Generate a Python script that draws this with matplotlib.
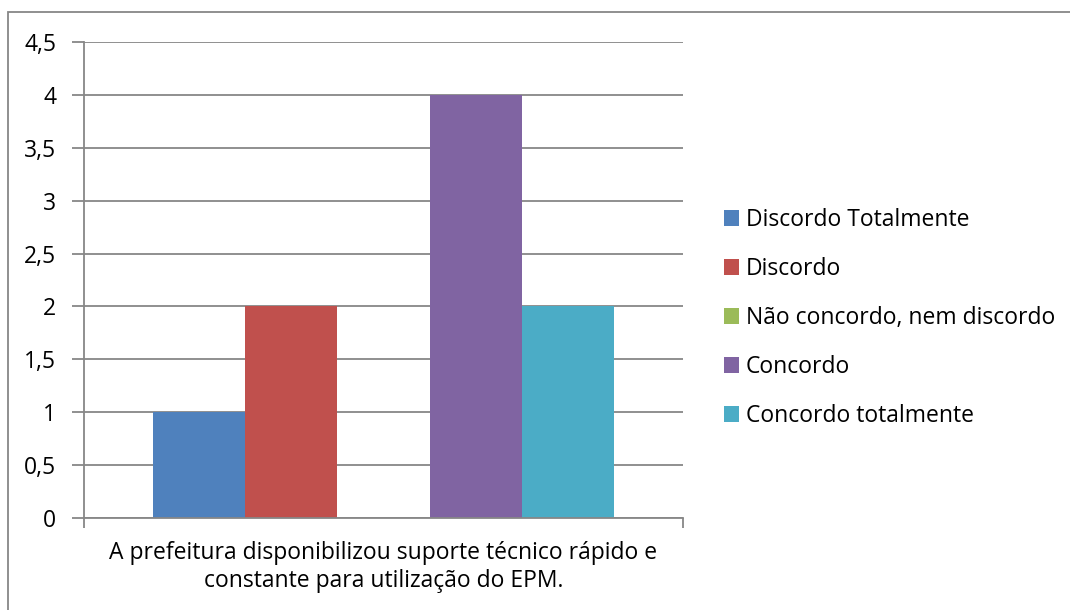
import matplotlib
matplotlib.use("Agg")
import matplotlib.pyplot as plt
from matplotlib.patches import Rectangle

categories = ["A prefeitura disponibilizou suporte técnico rápido e\nconstante para utilização do EPM."]
series_names = ["Discordo Totalmente", "Discordo", "Não concordo, nem discordo",
                "Concordo", "Concordo totalmente"]
series_values = [[1], [2], [0], [4], [2]]
colors = ["#4F81BD", "#C0504D", "#9BBB59", "#8064A2", "#4BACC6"]
yticks = [0, 0.5, 1, 1.5, 2, 2.5, 3, 3.5, 4, 4.5]
ytick_labels = ["0", "0,5", "1", "1,5", "2", "2,5", "3", "3,5", "4", "4,5"]

plt.rcParams['font.family'] = ['Open Sans', 'DejaVu Sans']
grey = "#878787"
fs = 16.5

fig = plt.figure(figsize=(10.7, 6.1), dpi=100)
# outer chart border (runs off the right and bottom edges)
fig.add_artist(Rectangle((8 / 1070, -0.05), 1.2, 1 - 12 / 610 + 0.05,
                         transform=fig.transFigure, fill=False,
                         edgecolor=grey, linewidth=1.3))

ax = fig.add_axes([84 / 1070, 1 - 518 / 610, (683 - 84) / 1070, (518 - 42) / 610])

w = 0.154
n = len(series_names)
for i, (name, vals) in enumerate(zip(series_names, series_values)):
    xs = [k + (i - (n - 1) / 2) * w for k in range(len(categories))]
    ax.bar(xs, vals, width=w, color=colors[i], label=name, zorder=3)

ax.set_xlim(-0.5, 0.5)
ax.set_ylim(0, 4.5)
ax.set_yticks(yticks)
ax.set_yticklabels(ytick_labels, fontsize=fs)
ax.yaxis.grid(True, color=grey, linewidth=1.3, zorder=0)
ax.tick_params(axis='y', length=9, color=grey, width=1.3, pad=11)

ax.set_xticks(range(len(categories)))
ax.set_xticklabels(categories, fontsize=fs, linespacing=1.22)
ax.set_xticks([-0.5, 0.5], minor=True)
ax.tick_params(axis='x', which='major', length=0, pad=16.5)
ax.tick_params(axis='x', which='minor', length=7, color=grey, width=1.3)

for s in ["top", "right"]:
    ax.spines[s].set_visible(False)
for s in ["left", "bottom"]:
    ax.spines[s].set_color(grey)
    ax.spines[s].set_linewidth(1.3)
    ax.spines[s].set_zorder(4)

ax.legend(loc="center left", bbox_to_anchor=(724 / 1070, 1 - 318 / 610),
          bbox_transform=fig.transFigure, frameon=False, fontsize=fs,
          handlelength=0.65, handleheight=0.65, handletextpad=0.3,
          labelspacing=1.09, borderaxespad=0, borderpad=0)

fig.savefig("out.png", dpi=100)
